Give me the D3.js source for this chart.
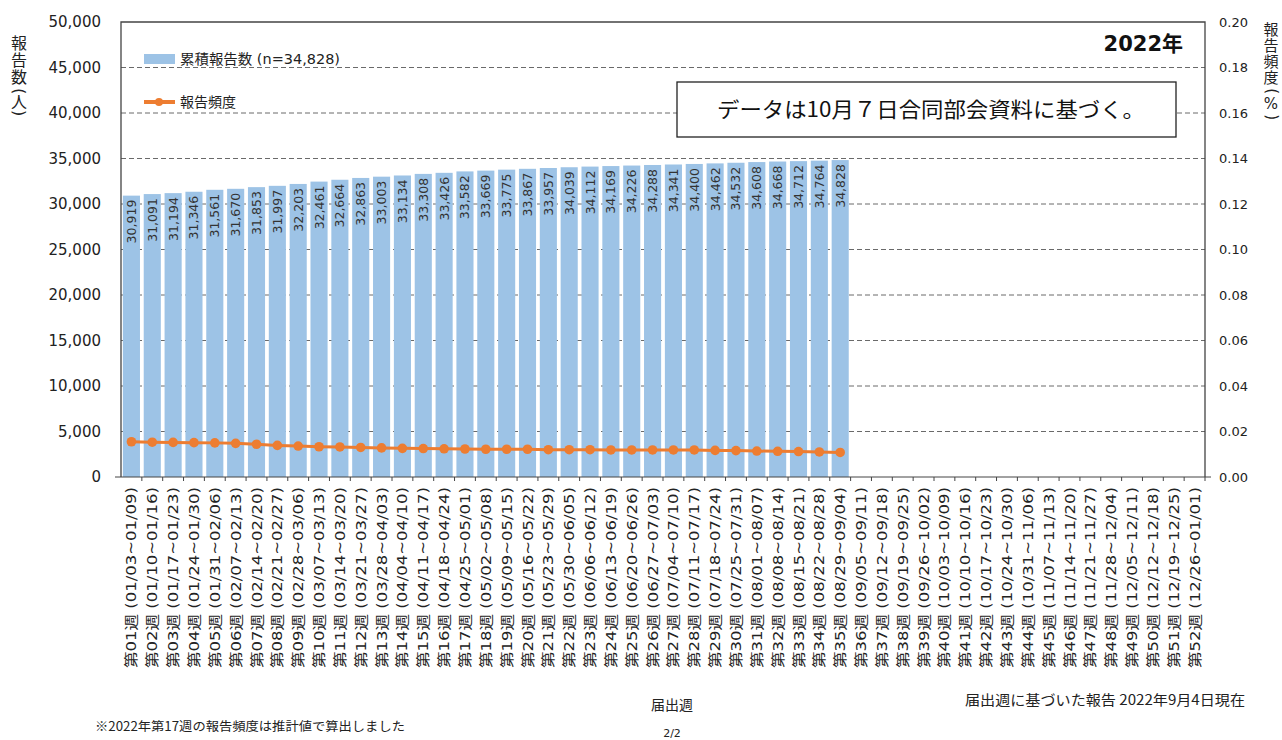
<!DOCTYPE html>
<html><head><meta charset="utf-8">
<script src="https://cdn.jsdelivr.net/npm/d3@7"></script>
<style>
body{margin:0;background:#fff;}
text{font-family:"DejaVu Sans","Noto Sans CJK JP",sans-serif;}
.jp{font-family:"Noto Sans CJK JP","DejaVu Sans",sans-serif;}
</style></head><body>
<svg id="c" width="1282" height="740"></svg>
<script>
const weekDates = ["01/03~01/09","01/10~01/16","01/17~01/23","01/24~01/30","01/31~02/06","02/07~02/13","02/14~02/20","02/21~02/27","02/28~03/06","03/07~03/13","03/14~03/20","03/21~03/27","03/28~04/03","04/04~04/10","04/11~04/17","04/18~04/24","04/25~05/01","05/02~05/08","05/09~05/15","05/16~05/22","05/23~05/29","05/30~06/05","06/06~06/12","06/13~06/19","06/20~06/26","06/27~07/03","07/04~07/10","07/11~07/17","07/18~07/24","07/25~07/31","08/01~08/07","08/08~08/14","08/15~08/21","08/22~08/28","08/29~09/04","09/05~09/11","09/12~09/18","09/19~09/25","09/26~10/02","10/03~10/09","10/10~10/16","10/17~10/23","10/24~10/30","10/31~11/06","11/07~11/13","11/14~11/20","11/21~11/27","11/28~12/04","12/05~12/11","12/12~12/18","12/19~12/25","12/26~01/01"];
const categories = weekDates.map((d,i)=>"第"+String(i+1).padStart(2,"0")+"週 ("+d+")");
const cumulative = [30919,31091,31194,31346,31561,31670,31853,31997,32203,32461,32664,32863,33003,33134,33308,33426,33582,33669,33775,33867,33957,34039,34112,34169,34226,34288,34341,34400,34462,34532,34608,34668,34712,34764,34828];
const frequency = [0.0155,0.0153,0.0152,0.0151,0.0150,0.0148,0.0144,0.0139,0.0136,0.0133,0.0132,0.0130,0.0128,0.0126,0.0125,0.0124,0.0123,0.0122,0.0122,0.0122,0.0120,0.0120,0.0120,0.0119,0.0119,0.0119,0.0119,0.0119,0.0117,0.0116,0.0114,0.0113,0.0112,0.0110,0.0108];
const leftTicks = [0,5000,10000,15000,20000,25000,30000,35000,40000,45000,50000];
const rightTicks = [0,0.02,0.04,0.06,0.08,0.10,0.12,0.14,0.16,0.18,0.20];

const svg = d3.select("#c");
const L=121, R=1205, T=22, B=477;
const x = d3.scaleBand().domain(categories).range([L,R]).paddingInner(0.18).paddingOuter(0.09);
const y = d3.scaleLinear().domain([0,50000]).range([B,T]);
const y2 = d3.scaleLinear().domain([0,0.2]).range([B,T]);

// gridlines
svg.append("g").selectAll("line").data(leftTicks.filter(t=>t>0 && t<50000)).join("line")
  .attr("x1",L).attr("x2",R).attr("y1",d=>y(d)).attr("y2",d=>y(d))
  .attr("stroke","#6a6a6a").attr("stroke-dasharray","5,3").attr("stroke-width",1);

// bars
svg.append("g").selectAll("rect").data(cumulative).join("rect")
  .attr("x",(d,i)=>x(categories[i])).attr("width",x.bandwidth())
  .attr("y",d=>y(d)).attr("height",d=>B-y(d)).attr("fill","#9DC3E6");

// bar labels
svg.append("g").selectAll("text").data(cumulative).join("text")
  .attr("transform",(d,i)=>`translate(${x(categories[i])+x.bandwidth()/2+4.5},${y(d)+4}) rotate(-90)`)
  .attr("text-anchor","end").attr("font-size",12.5).attr("fill","#333")
  .text(d=>d3.format(",")(d));

// frame
svg.append("path").attr("d",`M${L},${B}V${T}H${R}V${B}`).attr("fill","none").attr("stroke","#444").attr("stroke-width",1.3);

// axes
const xAxis = d3.axisBottom(x).tickSize(4).tickFormat("");
const gx = svg.append("g").attr("transform",`translate(0,${B})`).call(xAxis);
gx.select(".domain").attr("stroke","#444").attr("d",`M${L-6},0H${R+6}`);
gx.selectAll(".tick line").attr("stroke","#444").attr("transform",`translate(${x.step()/2},0)`);

svg.append("g").selectAll("text").data(categories).join("text")
  .attr("transform",d=>`translate(${x(d)+x.bandwidth()/2+5},${B+10}) rotate(-90)`)
  .attr("text-anchor","end").attr("font-size",14).attr("fill","#222")
  .attr("textLength",181).attr("lengthAdjust","spacingAndGlyphs")
  .text(d=>d);

const gy = svg.append("g").attr("transform",`translate(${L},0)`)
  .call(d3.axisLeft(y).tickValues(leftTicks).tickSize(0).tickPadding(20).tickFormat(d3.format(",")));
gy.select(".domain").remove();
gy.selectAll("text").attr("font-size",15).attr("fill","#222").attr("font-family","DejaVu Sans");

const gy2 = svg.append("g").attr("transform",`translate(${R},0)`)
  .call(d3.axisRight(y2).tickValues(rightTicks).tickSize(0).tickPadding(14).tickFormat(d3.format(".2f")));
gy2.select(".domain").remove();
gy2.selectAll("text").attr("font-size",13).attr("fill","#222").attr("font-family","DejaVu Sans");

// line
const line = d3.line().x((d,i)=>x(categories[i])+x.bandwidth()/2).y(d=>y2(d));
svg.append("path").datum(frequency).attr("d",line).attr("fill","none").attr("stroke","#ED7D31").attr("stroke-width",3);
svg.append("g").selectAll("circle").data(frequency).join("circle")
  .attr("cx",(d,i)=>x(categories[i])+x.bandwidth()/2).attr("cy",d=>y2(d)).attr("r",4.8).attr("fill","#ED7D31");

// legend
svg.append("rect").attr("x",144).attr("y",54).attr("width",31).attr("height",10).attr("fill","#9DC3E6");
const lg1 = svg.append("text").attr("x",180).attr("y",64).attr("font-size",14).attr("fill","#222")
  .attr("textLength",160).attr("lengthAdjust","spacingAndGlyphs");
lg1.append("tspan").attr("class","jp").text("累積報告数");
lg1.append("tspan").text(" (n=34,828)");
svg.append("line").attr("x1",144).attr("x2",175).attr("y1",102).attr("y2",102).attr("stroke","#ED7D31").attr("stroke-width",4);
svg.append("circle").attr("cx",159).attr("cy",102).attr("r",4).attr("fill","#ED7D31");
svg.append("text").attr("class","jp").attr("x",180).attr("y",107).attr("font-size",14).attr("fill","#222").text("報告頻度");

// year label
svg.append("text").attr("x",1183).attr("y",51).attr("text-anchor","end").attr("font-size",21).attr("font-weight","bold").attr("fill","#111").text("2022年");

// annotation box
svg.append("rect").attr("x",677).attr("y",82).attr("width",499).attr("height",55).attr("fill","#fff").attr("stroke","#222").attr("stroke-width",1.3);
svg.append("text").attr("class","jp").attr("x",717).attr("y",117).attr("font-size",21).attr("fill","#111")
  .attr("textLength",428).attr("lengthAdjust","spacingAndGlyphs").text("データは10月７日合同部会資料に基づく。");

// axis titles: one text element, stacked characters; parentheses turned sideways
function vtitle(cx, items, size){
  const t = svg.append("text").attr("font-size",size).attr("fill","#222");
  items.forEach(([c,cy])=>{
    const s = t.append("tspan");
    if(c==="("||c===")"){
      s.attr("font-family","DejaVu Sans").attr("rotate",90)
       .attr("x",cx - size*0.3).attr("y",cy - size*0.18).text(c);
    } else if(c==="%"){
      s.attr("font-family","DejaVu Sans").attr("text-anchor","middle")
       .attr("x",cx).attr("y",cy + size*0.36).text(c);
    } else {
      s.attr("class","jp").attr("text-anchor","middle")
       .attr("x",cx).attr("y",cy + size*0.38).text(c);
    }
  });
}
vtitle(19,[["報",43],["告",60],["数",77],["(",91],["人",102],[")",113]],16);
vtitle(1271,[["報",29],["告",45],["頻",61],["度",77],["(",91],["%",104],[")",117]],15);

// bottom texts
svg.append("text").attr("class","jp").attr("x",672).attr("y",710).attr("text-anchor","middle").attr("font-size",14).attr("fill","#222").text("届出週");
svg.append("text").attr("x",672).attr("y",737).attr("text-anchor","middle").attr("font-size",11).attr("fill","#222").text("2/2");
svg.append("text").attr("class","jp").attr("x",95).attr("y",731).attr("font-size",12.5).attr("fill","#222")
  .attr("textLength",310).attr("lengthAdjust","spacingAndGlyphs").text("※2022年第17週の報告頻度は推計値で算出しました");
svg.append("text").attr("class","jp").attr("x",965).attr("y",705).attr("font-size",14).attr("fill","#222")
  .attr("textLength",280).attr("lengthAdjust","spacingAndGlyphs").text("届出週に基づいた報告 2022年9月4日現在");
</script>
</body></html>
